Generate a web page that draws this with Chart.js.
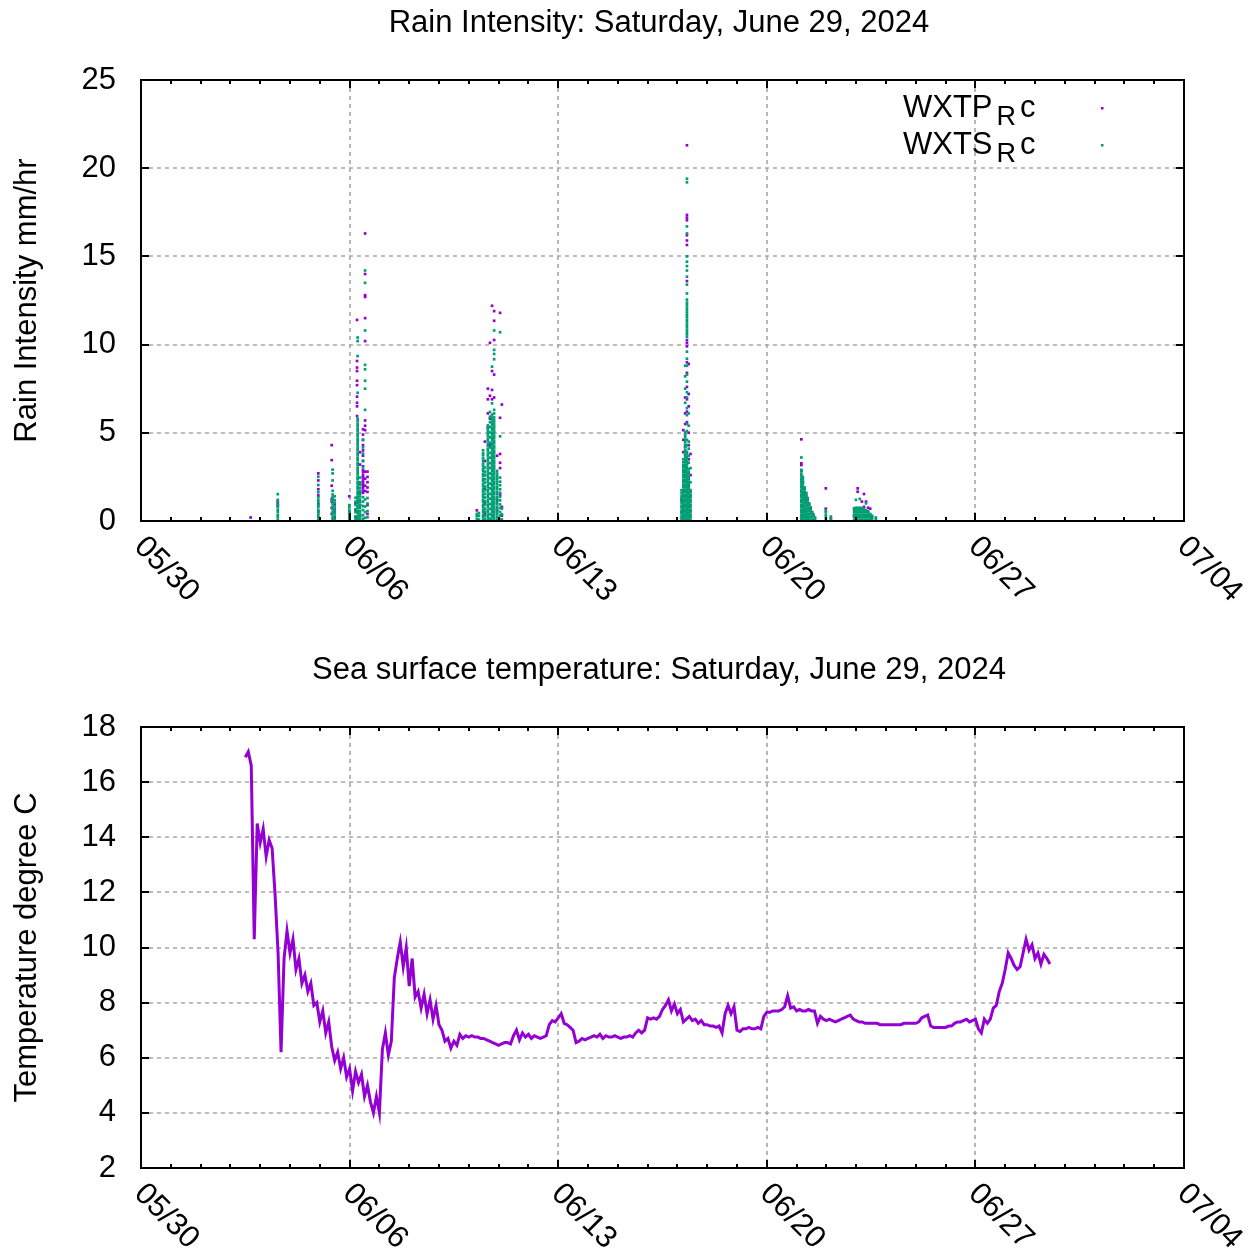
<!DOCTYPE html>
<html>
<head>
<meta charset="utf-8">
<title>Rain intensity and sea surface temperature</title>
<script src="https://cdn.jsdelivr.net/npm/chart.js@4.4.1/dist/chart.umd.min.js"></script>
<style>
  html, body { margin: 0; padding: 0; background: #fff; }
  #wrap { position: relative; width: 1255px; height: 1251px; }
  #wrap canvas { position: absolute; left: 0; }
</style>
</head>
<body>
<div id="wrap">
  <canvas id="rainChart" width="1255" height="647" style="top:0"></canvas>
  <canvas id="sstChart" width="1255" height="604" style="top:647px"></canvas>
</div>
<script>
// ---- time axis: days since 2024-05-30 00:00 ----
const tickDays = [0, 7, 14, 21, 28, 35];
const tickLabels = ['05/30', '06/06', '06/13', '06/20', '06/27', '07/04'];

const rainTitle = 'Rain Intensity: Saturday, June 29, 2024';
const rainAxisTitle = 'Rain Intensity mm/hr';
const sstTitle = 'Sea surface temperature: Saturday, June 29, 2024';
const sstAxisTitle = 'Temperature degree C';

const seriesNames = ['WXTP_Rc', 'WXTS_Rc'];

// ---- WXTP rain intensity (mm/hr): readings grouped by time of reading ----
const wxtpTimes = [3.68, 4.59, 5.95, 6.40, 6.50, 6.99, 7.20, 7.25, 7.35, 7.45, 7.52, 7.60,
  11.27, 11.54, 11.64, 11.71, 11.78, 11.85, 11.95, 12.05, 12.11,
  18.14, 18.20, 18.26, 18.32, 18.38, 18.44,
  22.16, 22.21, 22.27, 22.32, 22.37, 22.42, 22.47, 22.52, 22.57, 22.98, 23.15,
  23.93, 24.05, 24.19, 24.26, 24.33, 24.40, 24.47, 24.53];
const wxtpValues = [
  [0.2],
  [0.85, 0.95, 1.1],
  [0.5, 0.95, 1.45, 1.8, 2.3, 2.7],
  [0.4, 0.75, 1.1, 1.25, 2.0, 3.45, 4.3],
  [0.2, 0.6, 0.95],
  [0.55, 1.4],
  [0.2, 0.6, 1.0],
  [5.95, 6.5, 6.7, 7.05, 7.7, 7.95, 8.5, 8.7, 9.07, 11.4],
  [0.3, 0.9, 1.6, 2.1, 3.2, 3.9],
  [1.6, 1.72, 1.86, 1.97, 2.11, 2.23, 2.35, 2.49, 2.61, 2.77, 2.9, 3.1, 3.4, 3.7, 4.0, 4.3, 4.6, 4.9, 5.2],
  [1.7, 2.0, 2.4, 2.8, 5.15, 5.4, 5.7, 10.2, 11.5, 12.7, 12.8, 14.0, 16.3],
  [0.4, 0.9, 1.65, 1.9, 2.2, 2.5, 2.8],
  [0.6],
  [0.4, 1.0, 1.8, 2.6, 3.4, 4.5],
  [5.3, 6.1, 6.9, 7.5],
  [4.3, 5.8, 7.1, 10.1],
  [6.9, 7.43, 8.5, 12.2],
  [7.0, 8.3, 10.26, 11.35, 11.9],
  [0.6, 1.2, 3.7],
  [1.5, 3.0, 3.3, 3.8, 5.85, 11.8],
  [0.3, 0.8, 6.6],
  [0.5, 1.2],
  [2.6, 3.9, 4.6, 5.15],
  [3.1, 4.2, 5.5, 6.1, 7.0],
  [5.6, 6.2, 6.9, 7.6, 8.4, 9.0, 9.9, 10.1, 10.26, 13.6, 15.65, 15.9, 16.2, 17.05, 17.2, 17.35, 21.3],
  [2.0, 3.5, 4.3, 5.0, 6.5, 7.2, 8.9],
  [0.6, 1.4, 2.6, 3.8],
  [2.85, 3.17, 3.27, 4.63],
  [1.5, 2.2],
  [1.6],
  [1.4, 1.55],
  [1.25],
  [0.95],
  [0.7],
  [0.5],
  [0.35],
  [0.7, 1.85],
  [0.15],
  [0.3],
  [1.66, 1.85],
  [1.1],
  [0.8, 1.53],
  [1.1],
  [0.75],
  [0.7],
  [0.2]
];

// ---- WXTS rain intensity (mm/hr) ----
const wxtsTimes = [4.59, 5.95, 6.43, 6.50, 6.99, 7.20, 7.27, 7.35, 7.45, 7.52, 7.60,
  11.27, 11.34, 11.48, 11.54, 11.64, 11.71, 11.78, 11.85, 11.95, 12.05, 12.11,
  18.14, 18.20, 18.26, 18.32, 18.38, 18.44,
  22.16, 22.21, 22.27, 22.32, 22.37, 22.42, 22.47, 22.52, 22.57, 22.62, 22.98, 23.15,
  23.93, 23.99, 24.05, 24.12, 24.19, 24.26, 24.33, 24.40, 24.47, 24.53, 24.66];
const wxtsValues = [
  [0.08, 0.23, 0.35, 0.52, 0.64, 0.8, 0.91, 1.09, 1.2, 1.52],
  [0.06, 0.21, 0.33, 0.5, 0.61, 0.78, 0.9, 1.06, 1.18, 1.34, 1.63, 2.04, 2.51],
  [0.1, 0.22, 0.39, 0.5, 0.66, 0.77, 0.94, 1.05, 1.22, 1.34, 1.5, 1.71, 2.3, 2.7, 2.91],
  [0.12, 0.3, 0.45, 0.66, 0.82, 1.03, 1.18, 1.4],
  [0.05, 0.2, 0.32, 0.48, 0.61, 0.77, 0.9],
  [0.09, 0.26, 0.5, 0.67, 0.91, 1.1, 1.32],
  [0.05, 0.19, 0.3, 0.46, 0.57, 0.73, 0.84, 1.0, 1.12, 1.27, 1.39, 1.55, 1.66, 1.82, 1.94, 2.09, 2.21, 2.37, 2.48, 2.64,
   2.76, 2.91, 3.03, 3.19, 3.3, 3.46, 3.58, 3.73, 3.85, 4.01, 4.12, 4.28, 4.4, 4.55, 4.67, 4.83, 4.94, 5.1, 5.22, 5.37,
   5.49, 5.65, 5.8, 7.27, 9.35, 10.2, 10.4],
  [0.11, 0.26, 0.42, 0.57, 0.75, 0.89, 1.06, 1.21, 1.39, 1.54, 1.71, 1.87, 2.04, 2.19, 2.46],
  [0.13, 0.33, 0.62, 0.85, 1.1, 1.35, 3.05, 3.41, 3.82, 4.17, 4.6],
  [0.18, 0.5, 0.82, 1.22, 6.3, 7.5, 7.95, 8.6, 8.85, 10.8, 13.5, 14.2],
  [0.21, 0.56, 0.99, 1.3],
  [0.1, 0.27, 0.4],
  [0.08, 0.29, 0.45],
  [0.06, 0.21, 0.34, 0.5, 0.63, 0.79, 0.92, 1.09, 1.21, 1.38, 1.5, 1.67, 1.8, 1.96, 2.09, 2.26, 2.38, 2.55, 2.67, 2.84,
   2.97, 3.13, 3.26, 3.42, 3.55, 3.72, 3.84, 4.01],
  [0.11, 0.29, 0.53, 0.7, 0.92, 1.12, 1.33, 1.54, 1.75, 1.95, 2.18, 2.37, 2.61, 2.8, 3.03],
  [0.05, 0.2, 0.32, 0.49, 0.61, 0.78, 0.9, 1.06, 1.19, 1.35, 1.48, 1.64, 1.77, 1.93, 2.06, 2.22, 2.35, 2.51, 2.64, 2.8,
   2.93, 3.09, 3.22, 3.38, 3.51, 3.67, 3.8, 3.96, 4.09, 4.25, 4.38, 4.54, 4.67, 4.83, 4.96, 5.12, 5.25, 5.42],
  [0.13, 0.39, 0.69, 0.96, 1.27, 1.54, 1.85, 2.12, 2.43, 2.7, 3.01, 3.28, 3.59, 3.86, 4.17, 4.44, 4.75, 5.02, 5.33, 5.6,
   5.91, 6.18],
  [0.07, 0.23, 0.36, 0.52, 0.65, 0.81, 0.94, 1.1, 1.23, 1.39, 1.52, 1.68, 1.81, 1.97, 2.1, 2.26, 2.39, 2.55, 2.68, 2.84,
   2.97, 3.13, 3.26, 3.42, 3.55, 3.71, 3.84, 4.0, 4.13, 4.29, 4.42, 4.58, 4.71, 4.87, 5.0, 5.16, 5.29, 5.45, 5.58, 5.74,
   5.87, 6.03, 6.67, 8.75],
  [0.06, 0.2, 0.36, 0.49, 0.65, 0.78, 0.94, 1.07, 1.23, 1.36, 1.52, 1.65, 1.81, 1.94, 2.1, 2.23, 2.39, 2.52, 2.68, 2.81,
   2.97, 3.1, 3.26, 3.39, 3.55, 3.68, 3.84, 3.97, 4.13, 4.26, 4.42, 4.55, 4.71, 4.84, 5.0, 5.13, 5.29, 5.42, 5.58, 5.71,
   5.87, 6.1, 6.3, 9.17, 9.47, 9.7, 10.8],
  [0.07, 0.21, 0.37, 0.5, 0.66, 0.79, 0.95, 1.08, 1.24, 1.37, 1.53, 1.66, 1.82, 1.95, 2.11, 2.24, 2.4, 2.53, 2.69, 2.84],
  [0.1, 0.31, 0.51, 0.74, 0.94, 1.17, 1.37, 1.6, 1.8, 2.03, 2.23, 2.46, 4.8, 10.7],
  [0.09, 0.38, 0.7],
  [0.05, 0.19, 0.31, 0.47, 0.59, 0.75, 0.87, 1.03, 1.15, 1.31, 1.43, 1.59, 1.74],
  [0.06, 0.2, 0.33, 0.49, 0.61, 0.77, 0.9, 1.05, 1.18, 1.34, 1.46, 1.62, 1.75, 1.91, 2.03, 2.19, 2.32, 2.48, 2.6, 2.76,
   2.89, 3.05, 3.17, 3.33, 3.5],
  [0.05, 0.21, 0.34, 0.5, 0.62, 0.78, 0.91, 1.07, 1.19, 1.35, 1.48, 1.64, 1.76, 1.92, 2.05, 2.21, 2.33, 2.49, 2.62, 2.78,
   2.9, 3.06, 3.19, 3.35, 3.47, 3.63, 3.76, 3.92, 4.04, 4.2, 4.33, 4.49, 4.61, 4.77, 4.9, 5.02, 6.7, 7.5, 8.2, 8.8],
  [0.06, 0.19, 0.35, 0.48, 0.63, 0.77, 0.92, 1.05, 1.21, 1.34, 1.49, 1.63, 1.78, 1.91, 2.07, 2.2, 2.35, 2.49, 2.64, 2.77,
   2.93, 3.06, 3.21, 3.35, 3.5, 3.63, 3.79, 3.92, 4.3, 4.6, 5.1, 5.5, 6.0, 6.4, 7.0, 7.3, 7.9, 8.3, 8.8, 9.2,
   9.6, 10.45, 10.58, 10.72, 10.85, 11.0, 11.13, 11.27, 11.41, 11.55, 11.68, 11.82, 11.96, 12.1, 12.24, 12.38, 12.55,
   12.9, 13.4, 13.85, 14.2, 14.45, 14.7, 15.0, 16.3, 16.7, 19.2, 19.4],
  [0.07, 0.2, 0.36, 0.49, 0.64, 0.78, 0.93, 1.06, 1.22, 1.35, 1.5, 1.64, 1.79, 1.92, 2.08, 2.21, 2.36, 2.5, 2.65, 2.78,
   2.94, 3.3, 3.7, 4.1, 4.5, 5.4, 6.1],
  [0.05, 0.21, 0.34, 0.5, 0.63, 0.79, 0.92, 1.08, 1.21, 1.37, 1.5, 1.66, 1.75, 2.2, 3.0],
  [0.06, 0.2, 0.33, 0.49, 0.62, 0.78, 0.91, 1.07, 1.2, 1.36, 1.49, 1.65, 1.78, 1.94, 2.07, 2.23, 2.36, 2.52, 2.65, 2.81,
   2.9, 3.6],
  [0.07, 0.21, 0.35, 0.5, 0.64, 0.79, 0.93, 1.08, 1.22, 1.37, 1.51, 1.66, 1.8, 1.95, 2.09, 2.24, 2.38, 2.5],
  [0.08, 0.24, 0.39, 0.55, 0.7, 0.86, 1.01, 1.17, 1.32, 1.48, 1.63, 1.79, 1.9],
  [0.06, 0.22, 0.37, 0.53, 0.68, 0.84, 0.99, 1.15, 1.3, 1.46, 1.6],
  [0.09, 0.25, 0.41, 0.57, 0.73, 0.89, 1.05, 1.2, 1.3],
  [0.07, 0.24, 0.4, 0.57, 0.73, 0.9, 1.0],
  [0.08, 0.25, 0.43, 0.6, 0.78],
  [0.06, 0.24, 0.41, 0.5],
  [0.1, 0.3],
  [0.08, 0.2],
  [0.05, 0.2, 0.35, 0.5, 0.6],
  [0.1, 0.25],
  [0.06, 0.21, 0.35, 0.5, 0.64, 0.72],
  [0.05, 0.2, 0.34, 0.49, 0.63, 0.75, 1.2],
  [0.07, 0.22, 0.36, 0.51, 0.65, 0.74],
  [0.06, 0.21, 0.35, 0.5, 0.64, 0.75, 1.25],
  [0.08, 0.23, 0.37, 0.52, 0.66, 0.73],
  [0.07, 0.22, 0.36, 0.51, 0.65, 0.7],
  [0.06, 0.21, 0.35, 0.5, 0.6, 1.0],
  [0.07, 0.22, 0.36, 0.5, 0.55],
  [0.06, 0.21, 0.35, 0.4],
  [0.08, 0.23, 0.3],
  [0.1, 0.2]
];

// ---- sea surface temperature (deg C), one reading every 0.1 day from day 3.5 ----
const sstStartDay = 3.5;
const sstStepDays = 0.1;
const sstValues = [
  16.9, 17.1, 16.6, 10.3, 14.5,
  13.8, 14.3, 13.3, 13.9, 13.6, 11.9, 9.8, 6.2, 9.6, 10.6,
  9.8, 10.3, 9.2, 9.6, 8.7, 9.0, 8.4, 8.7, 7.9, 8.0,
  7.3, 7.7, 6.9, 7.3, 6.4, 5.9, 6.2, 5.6, 6.0, 5.3,
  5.6, 4.8, 5.5, 5.1, 5.4, 4.6, 5.0, 4.4, 4.0, 4.6,
  4.0, 6.3, 6.9, 6.1, 6.6, 8.9, 9.6, 10.2, 9.3, 10.0,
  8.6, 9.6, 8.2, 8.4, 7.8, 8.3, 7.6, 8.1, 7.4, 7.9,
  7.2, 7.0, 6.6, 6.7, 6.35, 6.6, 6.45, 6.85, 6.7, 6.8,
  6.75, 6.8, 6.75, 6.75, 6.7, 6.7, 6.65, 6.6, 6.55, 6.5,
  6.45, 6.5, 6.55, 6.55, 6.5, 6.8, 7.0, 6.65, 6.9, 6.75,
  6.85, 6.7, 6.8, 6.75, 6.7, 6.75, 6.8, 7.2, 7.35, 7.3,
  7.45, 7.6, 7.25, 7.2, 7.1, 7.0, 6.55, 6.6, 6.7, 6.65,
  6.7, 6.75, 6.8, 6.75, 6.85, 6.7, 6.8, 6.75, 6.75, 6.8,
  6.75, 6.7, 6.75, 6.75, 6.8, 6.75, 6.9, 7.0, 6.9, 7.0,
  7.45, 7.4, 7.45, 7.4, 7.5, 7.75, 7.9, 8.1, 7.7, 7.95,
  7.6, 7.75, 7.3, 7.4, 7.5, 7.35, 7.4, 7.25, 7.35, 7.2,
  7.2, 7.15, 7.15, 7.1, 7.15, 6.9, 7.6, 7.9, 7.6, 7.85,
  7.0, 6.95, 7.05, 7.05, 7.1, 7.05, 7.05, 7.1, 7.05, 7.5,
  7.65, 7.65, 7.7, 7.7, 7.7, 7.75, 7.85, 8.25, 7.8, 7.85,
  7.7, 7.75, 7.7, 7.7, 7.75, 7.7, 7.7, 7.25, 7.5, 7.4,
  7.35, 7.4, 7.35, 7.3, 7.35, 7.4, 7.45, 7.5, 7.55, 7.4,
  7.35, 7.3, 7.3, 7.25, 7.25, 7.25, 7.25, 7.25, 7.2, 7.2,
  7.2, 7.2, 7.2, 7.2, 7.2, 7.2, 7.25, 7.25, 7.25, 7.25,
  7.25, 7.3, 7.45, 7.5, 7.55, 7.15, 7.1, 7.1, 7.1, 7.1,
  7.1, 7.15, 7.15, 7.25, 7.3, 7.3, 7.35, 7.4, 7.3, 7.35,
  7.4, 7.05, 6.9, 7.4, 7.25, 7.4, 7.8, 7.9, 8.4, 8.7,
  9.2, 9.8, 9.6, 9.35, 9.2, 9.3, 9.8, 10.3, 9.9, 10.1,
  9.6, 9.8, 9.4, 9.75, 9.6, 9.4
];

const PURPLE = '#9400d3';
const TEAL = '#009e73';
const FONT = "'Liberation Sans', Arial, Helvetica, sans-serif";

Chart.defaults.font.family = FONT;
Chart.defaults.font.size = 31;
Chart.defaults.color = '#000';

function toPoints(times, values) {
  const pts = [];
  times.forEach((t, i) => values[i].forEach(v => pts.push({ x: t, y: v })));
  return pts;
}

const sstPoints = sstValues.map((v, i) => ({ x: sstStartDay + i * sstStepDays, y: v }));

// gnuplot-style frame: dashed grid, closed border, inward ticks, rotated date labels
const gnuFrame = {
  id: 'gnuFrame',
  beforeDatasetsDraw(chart) {
    const { ctx, chartArea: a, scales: { x, y } } = chart;
    ctx.save();
    ctx.strokeStyle = '#a6a6a6';
    ctx.lineWidth = 1.6;
    ctx.setLineDash([4, 4]);
    ctx.beginPath();
    tickDays.forEach(d => {
      if (d > x.min && d < x.max) {
        const px = Math.round(x.getPixelForValue(d));
        ctx.moveTo(px, a.top);
        ctx.lineTo(px, a.bottom);
      }
    });
    y.ticks.forEach(t => {
      if (t.value > y.min && t.value < y.max) {
        const py = Math.round(y.getPixelForValue(t.value));
        ctx.moveTo(a.left, py);
        ctx.lineTo(a.right, py);
      }
    });
    ctx.stroke();
    ctx.restore();
  },
  afterDatasetsDraw(chart, args, opts) {
    const { ctx, chartArea: a, scales: { x, y } } = chart;
    ctx.save();
    ctx.strokeStyle = '#000';
    ctx.lineWidth = 2;
    ctx.setLineDash([]);
    // ticks: major every week, minor every day, on bottom and top
    ctx.beginPath();
    for (let d = Math.ceil(x.min); d <= x.max; d++) {
      const px = Math.round(x.getPixelForValue(d));
      const len = tickDays.includes(d) ? 8 : 4;
      ctx.moveTo(px, a.bottom); ctx.lineTo(px, a.bottom - len);
      ctx.moveTo(px, a.top); ctx.lineTo(px, a.top + len);
    }
    y.ticks.forEach(t => {
      const py = Math.round(y.getPixelForValue(t.value));
      ctx.moveTo(a.left, py); ctx.lineTo(a.left + 8, py);
      ctx.moveTo(a.right, py); ctx.lineTo(a.right - 8, py);
    });
    ctx.stroke();
    // border
    ctx.strokeRect(Math.round(a.left), Math.round(a.top), Math.round(a.right - a.left), Math.round(a.bottom - a.top));

    ctx.fillStyle = '#000';
    ctx.font = '31px ' + FONT;
    // date labels, rotated 45 degrees downward
    ctx.textAlign = 'left';
    ctx.textBaseline = 'middle';
    tickDays.forEach((d, i) => {
      const px = x.getPixelForValue(d);
      ctx.save();
      ctx.translate(px - 2, a.bottom + 21);
      ctx.rotate(Math.PI / 4);
      ctx.fillText(tickLabels[i], 0, 0);
      ctx.restore();
    });
    // plot title
    ctx.textAlign = 'center';
    ctx.textBaseline = 'alphabetic';
    ctx.fillText(opts.title, (a.left + a.right) / 2 - 3.5, a.top - 48);
    // y axis title
    ctx.save();
    ctx.translate(27, (a.top + a.bottom) / 2);
    ctx.rotate(-Math.PI / 2);
    ctx.textBaseline = 'middle';
    ctx.fillText(opts.yTitle, 0, 0);
    ctx.restore();
    // key with enhanced-text subscripts (NAME_Xrest)
    if (opts.key) {
      opts.key.forEach((k, i) => {
        const base = a.top + 37 + i * 37;
        const [head, tail] = k.label.split('_');
        let tx = a.left + 762;
        ctx.textAlign = 'left';
        ctx.font = '31px ' + FONT;
        ctx.fillText(head, tx, base);
        tx += ctx.measureText(head).width + 4;
        ctx.font = '27px ' + FONT;
        ctx.fillText(tail.charAt(0), tx, base + 8);
        tx += ctx.measureText(tail.charAt(0)).width + 4;
        ctx.font = '31px ' + FONT;
        ctx.fillText(tail.slice(1), tx, base);
        ctx.fillStyle = k.color;
        ctx.fillRect(a.left + 960, base - 10, 2.5, 2.5);
        ctx.fillStyle = '#000';
      });
    }
    ctx.restore();
  }
};

function frameScales(yMin, yMax, yStep, xHeight) {
  return {
    x: {
      type: 'linear', min: 0, max: 35,
      ticks: { display: false },
      grid: { display: false },
      border: { display: false },
      afterFit(s) { s.height = xHeight; }
    },
    y: {
      type: 'linear', min: yMin, max: yMax,
      ticks: { stepSize: yStep, padding: 17, color: '#000', font: { size: 31 } },
      grid: { display: false },
      border: { display: false },
      afterFit(s) { s.width = 141; }
    }
  };
}

const common = {
  responsive: false,
  animation: false,
  devicePixelRatio: 1,
  layout: { padding: { left: 0, right: 71, top: 80, bottom: 0 } },
  events: []
};

new Chart(document.getElementById('rainChart'), {
  type: 'scatter',
  data: {
    datasets: [
      {
        label: seriesNames[0],
        data: toPoints(wxtpTimes, wxtpValues),
        backgroundColor: PURPLE,
        pointStyle: 'rect', pointRadius: 1.9, pointBorderWidth: 0, pointHoverRadius: 0,
        order: 2
      },
      {
        label: seriesNames[1],
        data: toPoints(wxtsTimes, wxtsValues),
        backgroundColor: TEAL,
        pointStyle: 'rect', pointRadius: 1.9, pointBorderWidth: 0, pointHoverRadius: 0,
        order: 1
      }
    ]
  },
  options: Object.assign({}, common, {
    scales: frameScales(0, 25, 5, 126),
    plugins: {
      legend: { display: false },
      tooltip: { enabled: false },
      gnuFrame: {
        title: rainTitle,
        yTitle: rainAxisTitle,
        key: [{ label: seriesNames[0], color: PURPLE }, { label: seriesNames[1], color: TEAL }]
      }
    }
  }),
  plugins: [gnuFrame]
});

new Chart(document.getElementById('sstChart'), {
  type: 'scatter',
  data: {
    datasets: [{
      label: 'SST',
      data: sstPoints,
      showLine: true,
      borderColor: PURPLE,
      borderWidth: 3,
      pointRadius: 0,
      tension: 0
    }]
  },
  options: Object.assign({}, common, {
    scales: frameScales(2, 18, 2, 83),
    plugins: {
      legend: { display: false },
      tooltip: { enabled: false },
      gnuFrame: { title: sstTitle, yTitle: sstAxisTitle }
    }
  }),
  plugins: [gnuFrame]
});
</script>
</body>
</html>
